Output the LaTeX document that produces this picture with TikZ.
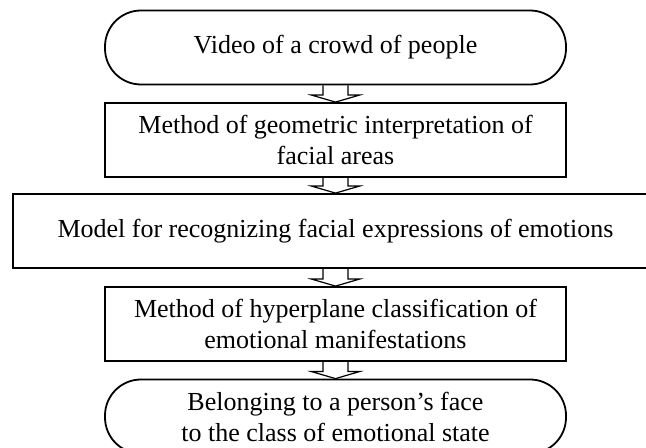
\documentclass[tikz,border=0pt]{standalone}
\usepackage{fontspec}
\setmainfont{Liberation Serif}
\usetikzlibrary{calc}

\begin{document}
\begin{tikzpicture}[
    x=1pt, y=1pt,
    term/.style={minimum width=230.5pt, minimum height=37pt, draw=black, line width=0.9pt, rounded corners=18pt, align=center, font=\fontsize{13}{15.5}\selectfont, anchor=center},
    proc/.style={minimum width=230.5pt, minimum height=37pt, draw=black, line width=0.9pt, align=center, font=\fontsize{13}{15.5}\selectfont, anchor=center},
    hollow/.style={draw=black, line width=0.6pt, line join=miter}
]
\clip (0,0) rectangle (323,224);
\node[term] (video) at (167.75, 200.25) {Video of a crowd of people};
\node[proc] (geom) at (167.75, 154) {Method of geometric interpretation of\\facial areas};
\node[proc, minimum width=322.5pt] (model) at (167.75, 108.5) {Model for recognizing facial expressions of emotions};
\node[proc] (hyper) at (167.75, 62) {Method of hyperplane classification of\\emotional manifestations};
\node[term] (belong) at (167.75, 15.75) {Belonging to a person’s face\\to the class of emotional state};
\foreach \a/\b in {video/geom, geom/model, model/hyper, hyper/belong} {
    \draw[hollow] ($(\a.south)+(-6.25pt,0)$) -- ($(\b.north)+(-6.25pt,3.5pt)$) -- ++(-5.75pt,0) -- (\b.north)
        -- ++(12pt,3.5pt) -- ++(-5.75pt,0) -- ($(\a.south)+(6.25pt,0)$);
}
\end{tikzpicture}
\end{document}
